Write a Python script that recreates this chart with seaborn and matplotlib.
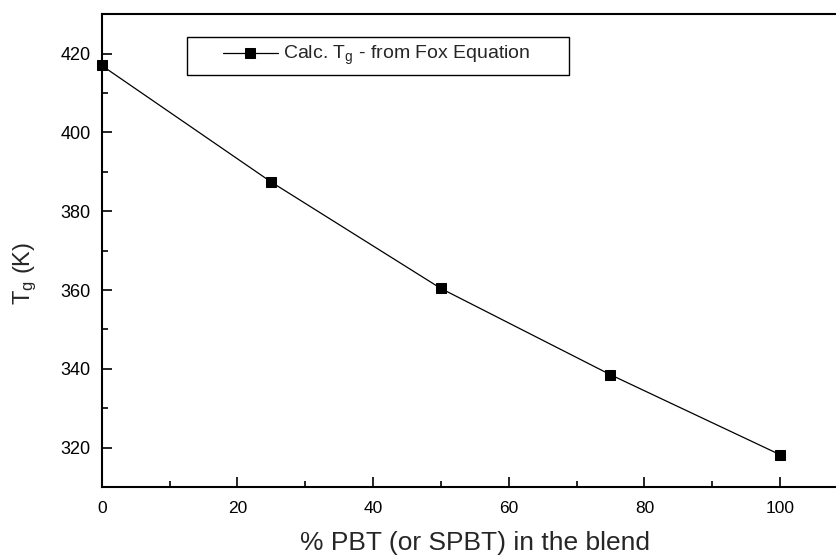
import matplotlib
matplotlib.use("Agg")
import matplotlib.pyplot as plt
from matplotlib.patches import Rectangle
from matplotlib.ticker import MultipleLocator
import seaborn as sns
import pandas as pd

# Blend composition (% PBT) and glass transition temperature from the Fox equation
pbt_percent = [0, 25, 50, 75, 100]
tg_fox = [417.0, 387.4, 360.4, 338.5, 318.2]

x_ticks = [0, 20, 40, 60, 80, 100]
y_ticks = [320, 340, 360, 380, 400, 420]

sns.set_style("ticks")
plt.rcParams["font.family"] = ["Liberation Sans", "DejaVu Sans"]
plt.rcParams["mathtext.fontset"] = "custom"
plt.rcParams["mathtext.rm"] = "Liberation Sans"
plt.rcParams["mathtext.it"] = "Liberation Sans"

df = pd.DataFrame({"pbt": pbt_percent, "tg": tg_fox})

fig = plt.figure(figsize=(8.36, 5.56), dpi=100)
ax = fig.add_axes([0.1217, 0.1241, 0.8925, 0.8502])

sns.lineplot(data=df, x="pbt", y="tg", ax=ax, color="black", linewidth=0.9,
             marker="s", markersize=7.5, markeredgecolor="black",
             markerfacecolor="black", clip_on=False,
             label=r"Calc. T$_\mathregular{g}$ - from Fox Equation")

ax.set_xlim(0, 110)
ax.set_ylim(310, 430)
ax.set_xticks(x_ticks)
ax.set_yticks(y_ticks)
ax.xaxis.set_minor_locator(MultipleLocator(10))
ax.yaxis.set_minor_locator(MultipleLocator(10))

ax.tick_params(which="both", direction="in", width=1.2, colors="black")
ax.tick_params(which="major", length=7)
ax.tick_params(which="minor", length=4)
ax.tick_params(axis="y", labelsize=13, pad=8)
ax.tick_params(axis="x", labelsize=12.5, pad=10)

for side in ["left", "bottom", "top"]:
    ax.spines[side].set_visible(True)
    ax.spines[side].set_linewidth(1.5)
    ax.spines[side].set_color("black")
ax.spines["right"].set_visible(False)

ax.set_xlabel("% PBT (or SPBT) in the blend", fontsize=19, labelpad=11)
ax.set_ylabel(r"T$_\mathregular{g}$ (K)", fontsize=17, va="center")
ax.yaxis.set_label_coords(-0.103, 0.451)

# Legend entry with a hand-placed frame around it
leg = ax.legend(loc="center left", bbox_to_anchor=(0.1626, 0.912), fontsize=14,
                frameon=False, handlelength=2.8, handletextpad=0.3,
                borderpad=0, borderaxespad=0)
ax.add_patch(Rectangle((0.1142, 0.8716), 0.5122, 0.0797, transform=ax.transAxes,
                       fill=False, edgecolor="black", linewidth=1.0, clip_on=False))

fig.savefig("out.png", dpi=100, facecolor="white")
